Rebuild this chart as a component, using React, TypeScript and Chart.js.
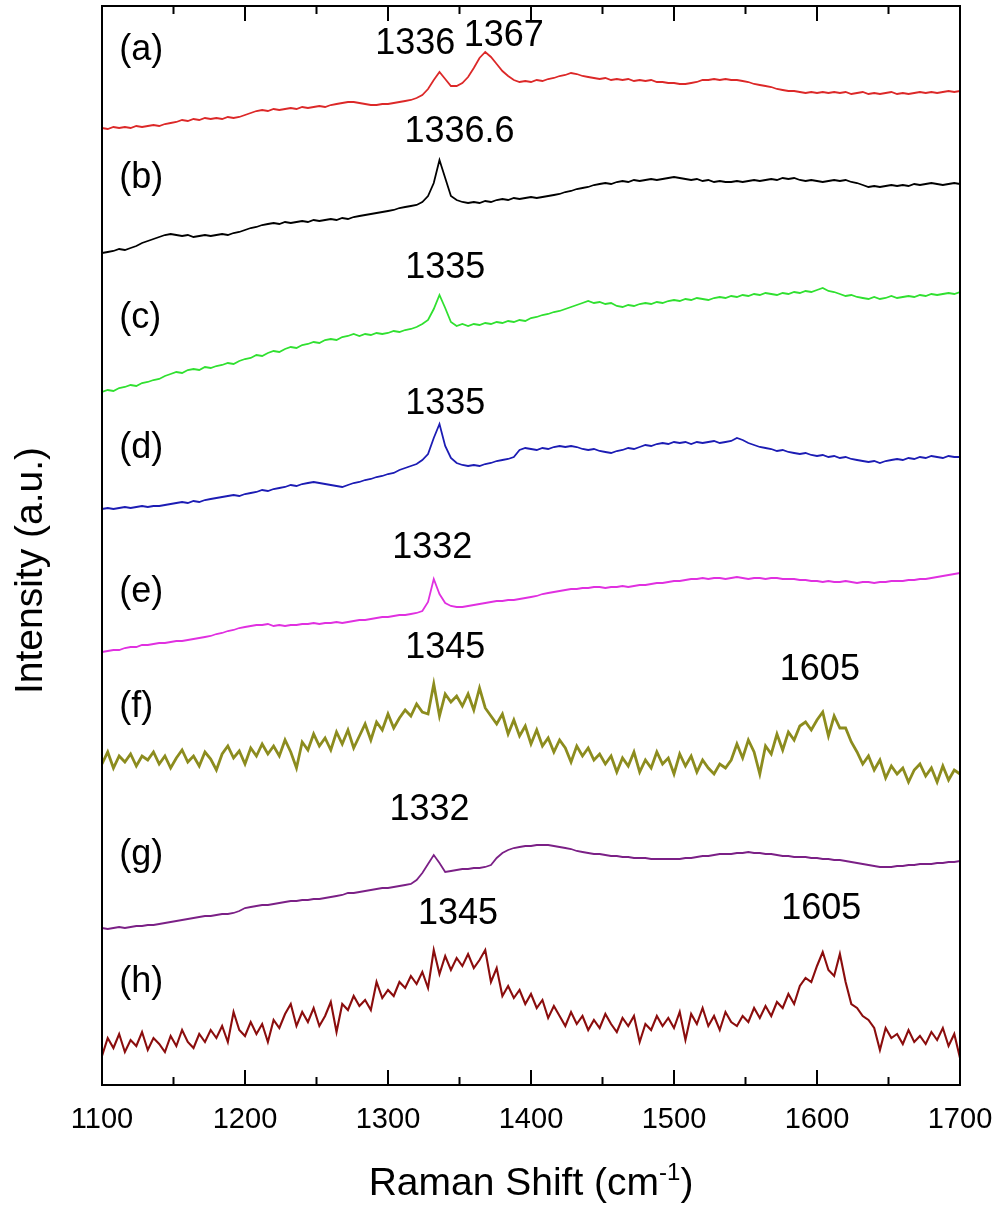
import React, { useEffect, useRef } from "react";
import { Chart, registerables } from "chart.js";

Chart.register(...registerables);

const FONT = '"Liberation Sans", Arial, Helvetica, sans-serif';

// Raman shift axis
const shiftTicks = [1100, 1200, 1300, 1400, 1500, 1600, 1700];
const minorTicks = [1150, 1250, 1350, 1450, 1550, 1650];

// All spectra sampled every 4 cm-1 from 1100 to 1700 (151 points)
const ramanShift = Array.from({ length: 151 }, (_, i) => 1100 + 4 * i);

// Intensities (arbitrary stacked units)
const specA = [
  958, 957, 959, 958, 959, 958, 960, 959, 960, 961,
  960, 962, 963, 964, 966, 965, 967, 966, 968, 967,
  968, 967, 969, 968, 969, 971, 973, 975, 976, 975,
  977, 976, 977, 978, 977, 979, 978, 979, 980, 979,
  981, 982, 983, 984, 984, 983, 982, 981, 981, 982,
  982, 983, 984, 985, 986, 988, 991, 997, 1006, 1014,
  1007, 1000, 1000, 1003, 1009, 1018, 1028, 1034, 1029, 1022,
  1015, 1010, 1006, 1004, 1005, 1004, 1006, 1005, 1007, 1008,
  1010, 1011, 1013, 1012, 1010, 1009, 1008, 1007, 1008, 1006,
  1007, 1006, 1007, 1005, 1006, 1005, 1006, 1004, 1004, 1003,
  1003, 1002, 1002, 1003, 1004, 1006, 1006, 1007, 1006, 1007,
  1006, 1006, 1005, 1004, 1002, 1001, 1000, 999, 997, 996,
  995, 995, 994, 993, 994, 993, 994, 993, 994, 993,
  994, 992, 993, 994, 992, 993, 992, 993, 994, 992,
  993, 992, 993, 994, 993, 994, 993, 994, 995, 994,
  995,
];

const specB = [
  833, 834, 835, 837, 836, 838, 840, 843, 845, 847,
  849, 851, 852, 851, 850, 851, 849, 850, 851, 850,
  851, 852, 851, 853, 854, 856, 858, 859, 861, 862,
  863, 862, 864, 863, 864, 865, 864, 866, 865, 866,
  867, 866, 868, 867, 869, 870, 871, 872, 873, 874,
  875, 876, 878, 879, 880, 881, 884, 890, 903, 926,
  908, 890, 886, 884, 883, 884, 883, 885, 884, 886,
  887, 886, 888, 887, 888, 889, 888, 889, 890, 891,
  892, 894, 895, 897, 898, 899, 901, 902, 903, 902,
  904, 905, 904, 906, 905, 906, 907, 906, 907, 908,
  909, 908, 907, 906, 907, 905, 906, 904, 905, 904,
  904, 905, 904, 905, 906, 905, 906, 907, 906, 908,
  907, 908, 906, 905, 906, 905, 904, 905, 906, 905,
  906, 904, 903, 901, 899, 900, 899, 900, 901, 900,
  901, 900, 902, 901, 902, 903, 902, 901, 902, 903,
  902,
];

const specC = [
  694, 696, 695, 698, 699, 701, 700, 703, 704, 706,
  707, 710, 712, 714, 713, 716, 717, 716, 719, 718,
  720, 721, 723, 722, 725, 727, 728, 731, 730, 733,
  735, 734, 737, 739, 738, 741, 742, 744, 743, 746,
  747, 746, 749, 750, 752, 750, 752, 751, 753, 752,
  753, 755, 754, 756, 757, 759, 762, 766, 777, 791,
  778, 764, 760, 762, 760, 762, 761, 763, 762, 764,
  763, 765, 764, 766, 765, 768, 769, 771, 772, 774,
  775, 777, 779, 781, 783, 785, 783, 784, 782, 783,
  780, 779, 781, 780, 782, 783, 782, 784, 783, 785,
  786, 785, 787, 786, 788, 787, 786, 788, 789, 788,
  790, 789, 791, 790, 792, 791, 793, 792, 791, 793,
  792, 794, 793, 795, 794, 796, 798, 795, 794, 792,
  790, 791, 789, 788, 787, 789, 787, 788, 790, 788,
  789, 790, 789, 791, 790, 792, 791, 792, 793, 792,
  794,
];

const specD = [
  577, 578, 577, 578, 579, 578, 579, 580, 579, 580,
  580, 581, 582, 583, 584, 583, 585, 584, 586, 587,
  588, 589, 590, 591, 590, 592, 593, 594, 596, 595,
  597, 598, 599, 601, 600, 602, 603, 604, 603, 602,
  601, 600, 599, 601, 603, 604, 606, 607, 609, 610,
  612, 613, 616, 618, 620, 622, 626, 632, 648, 662,
  640, 628, 623, 621, 620, 621, 620, 622, 623, 625,
  626, 627, 629, 636, 638, 637, 636, 638, 637, 639,
  640, 639, 640, 639, 637, 636, 637, 635, 634, 633,
  635, 636, 638, 637, 639, 641, 640, 642, 643, 642,
  644, 643, 644, 642, 644, 643, 644, 645, 643, 644,
  645, 648, 646, 643, 641, 639, 638, 637, 635, 636,
  634, 633, 632, 633, 631, 630, 631, 629, 630, 628,
  629, 627, 626, 625, 624, 625, 623, 625, 626, 627,
  626, 628, 627, 629, 628, 630, 629, 628, 630, 629,
  629,
];

const specE = [
  434, 435, 436, 436, 438, 439, 439, 441, 441, 442,
  443, 443, 444, 445, 445, 446, 447, 448, 449, 450,
  452, 453, 455, 456, 458, 459, 460, 461, 461, 462,
  460, 461, 460, 461, 461, 462, 462, 463, 462, 463,
  463, 464, 463, 464, 465, 466, 466, 467, 468, 469,
  469, 470, 471, 471, 472, 473, 475, 484, 507, 492,
  483, 480, 479, 479, 480, 481, 482, 483, 484, 485,
  485, 486, 486, 487, 488, 489, 490, 492, 493, 494,
  495, 496, 497, 497, 498, 498, 499, 499, 498, 499,
  499, 500, 499, 500, 501, 501, 502, 503, 503, 504,
  505, 505, 506, 507, 507, 508, 507, 508, 508, 507,
  508, 509, 508, 507, 508, 508, 507, 508, 508, 507,
  507, 507, 506, 506, 505, 505, 504, 505, 504, 504,
  505, 504, 503, 504, 504, 503, 504, 504, 505, 505,
  505, 506, 506, 507, 507, 508, 509, 510, 511, 512,
  513,
];

const specF = [
  322, 334, 318, 330, 324, 332, 320, 330, 326, 334,
  322, 330, 318, 328, 336, 324, 330, 320, 334, 327,
  316, 332, 340, 328, 335, 322, 338, 330, 342, 332,
  340, 330, 346, 334, 318, 344, 336, 352, 340, 348,
  336, 354, 342, 356, 338, 350, 362, 346, 364, 356,
  372, 358, 368, 376, 370, 382, 374, 372, 402, 370,
  392, 384, 390, 380, 392, 376, 398, 378, 370, 362,
  372, 352, 366, 350, 360, 342, 356, 340, 348, 334,
  346, 338, 324, 340, 330, 338, 326, 332, 322, 330,
  314, 328, 320, 334, 314, 326, 318, 334, 322, 328,
  312, 332, 320, 330, 314, 326, 318, 312, 322, 318,
  326, 342, 328, 346, 334, 312, 340, 332, 352, 336,
  354, 346, 360, 364, 356, 366, 374, 350, 370, 358,
  358, 344, 334, 322, 330, 316, 326, 308, 320, 312,
  318, 304, 316, 322, 310, 318, 304, 320, 306, 316,
  312,
];

const specG = [
  158, 157, 158, 159, 158, 159, 160, 160, 161, 161,
  162, 163, 164, 165, 166, 167, 168, 169, 170, 170,
  171, 172, 172, 173, 175, 178, 179, 180, 181, 181,
  182, 183, 184, 185, 185, 186, 186, 187, 187, 188,
  189, 190, 191, 193, 193, 194, 195, 196, 197, 198,
  198, 199, 200, 201, 202, 206, 213, 222, 231, 223,
  214, 215, 216, 217, 217, 218, 218, 219, 221, 228,
  233, 236, 238, 239, 240, 240, 241, 241, 241, 240,
  239, 238, 237, 235, 234, 233, 232, 232, 231, 230,
  230, 229, 229, 228, 228, 228, 227, 227, 227, 227,
  227, 227, 228, 228, 229, 230, 230, 231, 232, 232,
  232, 233, 233, 234, 233, 233, 232, 232, 231, 230,
  230, 229, 229, 229, 228, 228, 227, 227, 226, 226,
  225, 224, 223, 222, 221, 220, 219, 219, 219, 220,
  220, 221, 221, 222, 222, 222, 223, 223, 224, 224,
  225,
];

const specH = [
  30, 48, 38, 52, 34, 46, 40, 54, 36, 48,
  42, 34, 50, 40, 56, 44, 38, 52, 44, 56,
  48, 60, 44, 74, 56, 50, 64, 52, 62, 44,
  66, 58, 72, 82, 60, 74, 64, 78, 60, 70,
  84, 54, 82, 76, 90, 80, 86, 76, 104, 88,
  96, 90, 104, 98, 110, 102, 114, 98, 136, 112,
  130, 116, 128, 120, 132, 118, 126, 136, 104, 118,
  90, 100, 88, 96, 82, 92, 78, 86, 68, 80,
  70, 60, 74, 62, 70, 56, 66, 58, 72, 62,
  54, 68, 60, 70, 44, 62, 56, 70, 60, 68,
  58, 74, 46, 72, 62, 78, 60, 70, 56, 74,
  64, 60, 70, 64, 78, 68, 80, 70, 84, 78,
  92, 82, 100, 108, 104, 120, 134, 116, 110, 132,
  104, 82, 78, 70, 66, 58, 36, 58, 48, 52,
  42, 56, 44, 50, 42, 54, 46, 58, 40, 52,
  28,
];

// Curve names and colours
const sampleNames = ["(a)", "(b)", "(c)", "(d)", "(e)", "(f)", "(g)", "(h)"];
const sampleLabelLevel = [1036, 908, 768, 638, 494, 379, 231, 104];
const sampleColors = ["#dc2828", "#000000", "#30e030", "#1c1cb4", "#e030e0", "#8c8c1e", "#7b2086", "#8b0d0d"];
const sampleWidths = [1.8, 1.8, 1.8, 1.8, 1.8, 2.8, 1.8, 2.1];

// Peak annotations: text, shift, intensity level
const peakText = ["1336", "1367", "1336.6", "1335", "1335", "1332", "1345", "1605", "1332", "1345", "1605"];
const peakShift = [1319, 1381, 1350, 1340, 1340, 1331, 1340, 1602, 1329, 1349, 1603];
const peakLevel = [1042, 1050, 954, 818, 682, 538, 438, 416, 276, 172, 177];

const allSpectra = [specA, specB, specC, specD, specE, specF, specG, specH].map((vals) =>
  vals.map((y, i) => ({ x: ramanShift[i], y }))
);

const decorPlugin = {
  id: "decor",
  afterDatasetsDraw(chart: any) {
    const { ctx, chartArea: ca, scales } = chart;
    const xs = scales.x;
    const ys = scales.y;
    ctx.save();
    ctx.strokeStyle = "#000";
    ctx.fillStyle = "#000";
    ctx.lineWidth = 2;
    ctx.strokeRect(ca.left, ca.top, ca.right - ca.left, ca.bottom - ca.top);
    const seg = (x1: number, y1: number, x2: number, y2: number) => {
      ctx.beginPath();
      ctx.moveTo(x1, y1);
      ctx.lineTo(x2, y2);
      ctx.stroke();
    };
    for (const v of shiftTicks) {
      const x = xs.getPixelForValue(v);
      seg(x, ca.bottom, x, ca.bottom - 15);
      seg(x, ca.top, x, ca.top + 15);
    }
    for (const v of minorTicks) {
      const x = xs.getPixelForValue(v);
      seg(x, ca.bottom, x, ca.bottom - 8);
      seg(x, ca.top, x, ca.top + 8);
    }
    // tick labels
    ctx.font = `29px ${FONT}`;
    ctx.textAlign = "center";
    ctx.textBaseline = "alphabetic";
    for (const v of shiftTicks) {
      ctx.fillText(String(v), xs.getPixelForValue(v), ca.bottom + 43);
    }
    // x title with superscript
    const main = "Raman Shift (cm";
    const sup = "-1";
    const close = ")";
    ctx.font = `39px ${FONT}`;
    const wMain = ctx.measureText(main).width;
    const wClose = ctx.measureText(close).width;
    ctx.font = `24px ${FONT}`;
    const wSup = ctx.measureText(sup).width;
    const total = wMain + wSup + wClose;
    const cx = (ca.left + ca.right) / 2;
    let sx = cx - total / 2;
    const base = ca.bottom + 110;
    ctx.textAlign = "left";
    ctx.font = `39px ${FONT}`;
    ctx.fillText(main, sx, base);
    sx += wMain;
    ctx.font = `24px ${FONT}`;
    ctx.fillText(sup, sx, base - 15);
    sx += wSup;
    ctx.font = `39px ${FONT}`;
    ctx.fillText(close, sx, base);
    // y title
    ctx.save();
    ctx.translate(31, (ca.top + ca.bottom) / 2 + 25);
    ctx.rotate(-Math.PI / 2);
    ctx.textAlign = "center";
    ctx.textBaseline = "middle";
    ctx.font = `39px ${FONT}`;
    ctx.fillText("Intensity (a.u.)", 0, 0);
    ctx.restore();
    // sample labels
    ctx.font = `36px ${FONT}`;
    ctx.textAlign = "left";
    ctx.textBaseline = "middle";
    sampleNames.forEach((t, i) => {
      ctx.fillText(t, xs.getPixelForValue(1112), ys.getPixelForValue(sampleLabelLevel[i]));
    });
    // peak labels
    ctx.font = `36px ${FONT}`;
    ctx.textAlign = "center";
    peakText.forEach((t, i) => {
      ctx.fillText(t, xs.getPixelForValue(peakShift[i]), ys.getPixelForValue(peakLevel[i]));
    });
    ctx.restore();
  },
};

export default function App() {
  const ref = useRef<HTMLCanvasElement | null>(null);
  useEffect(() => {
    if (!ref.current) return;
    const chart = new Chart(ref.current, {
      type: "line",
      data: {
        datasets: allSpectra.map((d, i) => ({
          label: sampleNames[i],
          data: d,
          borderColor: sampleColors[i],
          borderWidth: sampleWidths[i],
          pointRadius: 0,
          fill: false,
          tension: 0,
        })),
      },
      options: {
        animation: false,
        responsive: false,
        events: [],
        layout: { padding: { left: 102, right: 38, top: 6, bottom: 122 } },
        plugins: { legend: { display: false }, tooltip: { enabled: false } },
        scales: {
          x: { type: "linear", min: 1100, max: 1700, display: false },
          y: { type: "linear", min: 1, max: 1080, display: false },
        },
      },
      plugins: [decorPlugin],
    });
    return () => chart.destroy();
  }, []);
  return (
    <div style={{ position: "fixed", left: 0, top: 0, width: 998, height: 1207, background: "#fff" }}>
      <canvas ref={ref} width={998} height={1207} style={{ width: 998, height: 1207 }} />
    </div>
  );
}
